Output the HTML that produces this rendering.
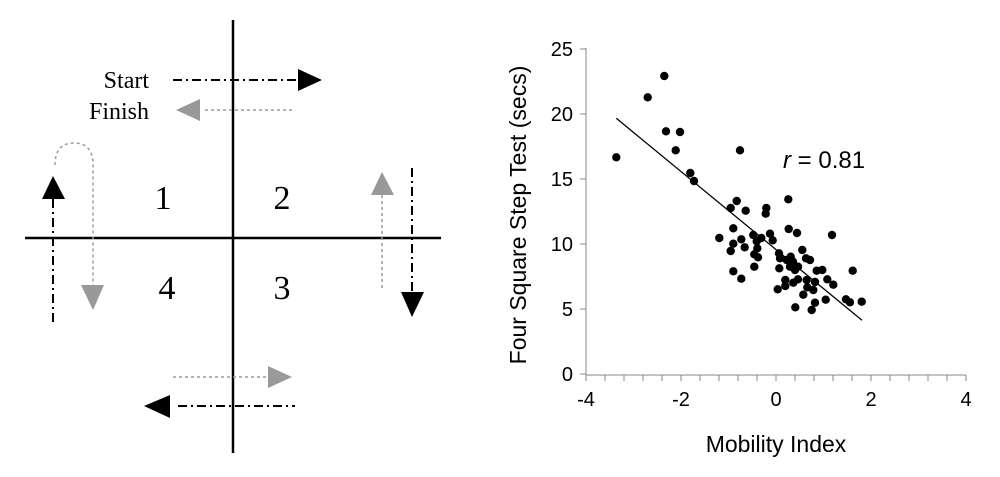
<!DOCTYPE html>
<html><head><meta charset="utf-8"><style>
html,body{margin:0;padding:0;background:#fff;}
</style></head><body>
<svg width="1000" height="472" viewBox="0 0 1000 472" xmlns="http://www.w3.org/2000/svg">
<g stroke="#000" stroke-width="2.5">
<line x1="233" y1="20" x2="233" y2="453"/>
<line x1="25" y1="238" x2="441" y2="238"/>
</g>
<g font-family="Liberation Serif, serif" fill="#000">
<text x="149" y="88" font-size="24" text-anchor="end">Start</text>
<text x="149" y="119" font-size="24" text-anchor="end">Finish</text>
<text x="163" y="209" font-size="34" text-anchor="middle">1</text>
<text x="282" y="209" font-size="34" text-anchor="middle">2</text>
<text x="167" y="299" font-size="34" text-anchor="middle">4</text>
<text x="282" y="299" font-size="34" text-anchor="middle">3</text>
</g>
<g stroke="#000" stroke-width="2" stroke-dasharray="9,4,2,4" fill="none">
<line x1="173" y1="80" x2="298" y2="80"/>
<line x1="53" y1="322" x2="53" y2="198"/>
<line x1="412" y1="168" x2="412" y2="293"/>
<line x1="178" y1="406" x2="295" y2="406"/>
</g>
<g stroke="#999" stroke-width="1.5" stroke-dasharray="3,3" fill="none">
<line x1="205" y1="110" x2="293" y2="110"/>
<path d="M55,165 Q55,143 74,143 Q93,143 93,165 L93,285"/>
<line x1="382" y1="288" x2="382" y2="195"/>
<line x1="173" y1="377" x2="268" y2="377"/>
</g>
<g fill="#000">
<polygon points="298,69 322,80 298,91"/>
<polygon points="42,199 53,176 65,199"/>
<polygon points="401,292 412,317 424,292"/>
<polygon points="170,395 144,406 170,418"/>
</g>
<g fill="#999">
<polygon points="200,99 176,110 200,121"/>
<polygon points="81,285 93,310 104,285"/>
<polygon points="371,195 382,172 394,195"/>
<polygon points="268,366 292,377 268,388"/>
</g>
<g stroke="#888" stroke-width="1">
<line x1="586" y1="48" x2="586" y2="375"/>
<line x1="586" y1="375" x2="966" y2="375"/>
<line x1="580" y1="49" x2="586" y2="49"/>
<line x1="580" y1="114" x2="586" y2="114"/>
<line x1="580" y1="179" x2="586" y2="179"/>
<line x1="580" y1="244" x2="586" y2="244"/>
<line x1="580" y1="309" x2="586" y2="309"/>
<line x1="580" y1="374" x2="586" y2="374"/>
<path d="M586,375v6M605,375v6M624,375v6M643,375v6M662,375v6M681,375v6M700,375v6M719,375v6M738,375v6M757,375v6M776,375v6M795,375v6M814,375v6M833,375v6M852,375v6M871,375v6M890,375v6M909,375v6M928,375v6M947,375v6M966,375v6"/>
</g>
<g font-family="Liberation Sans, sans-serif" font-size="20" fill="#000">
<text x="573" y="56" text-anchor="end">25</text>
<text x="573" y="121" text-anchor="end">20</text>
<text x="573" y="186" text-anchor="end">15</text>
<text x="573" y="251" text-anchor="end">10</text>
<text x="573" y="316" text-anchor="end">5</text>
<text x="573" y="381" text-anchor="end">0</text>
<text x="586" y="406" text-anchor="middle">-4</text>
<text x="681" y="406" text-anchor="middle">-2</text>
<text x="776" y="406" text-anchor="middle">0</text>
<text x="871" y="406" text-anchor="middle">2</text>
<text x="966" y="406" text-anchor="middle">4</text>
<text x="776" y="452" font-size="23" text-anchor="middle">Mobility Index</text>
<text transform="translate(526,215) rotate(-90)" font-size="23" text-anchor="middle">Four Square Step Test (secs)</text>
<text x="783" y="168" font-size="24"><tspan font-style="italic">r</tspan> = 0.81</text>
</g>
<line x1="616.3" y1="118.3" x2="862" y2="320.3" stroke="#000" stroke-width="1.3"/>
<g fill="#000">
<circle cx="616.3" cy="157.3" r="4.2"/><circle cx="647.7" cy="97.3" r="4.2"/><circle cx="664.3" cy="76" r="4.2"/><circle cx="666" cy="131.3" r="4.2"/><circle cx="680" cy="132" r="4.2"/><circle cx="675.7" cy="150.3" r="4.2"/><circle cx="690.3" cy="173" r="4.2"/><circle cx="694" cy="181" r="4.2"/><circle cx="740" cy="150.3" r="4.2"/><circle cx="730.7" cy="208" r="4.2"/><circle cx="736.7" cy="201" r="4.2"/><circle cx="745.7" cy="210.7" r="4.2"/><circle cx="765.7" cy="213.7" r="4.2"/><circle cx="766.3" cy="208" r="4.2"/><circle cx="788.3" cy="199.3" r="4.2"/><circle cx="733.3" cy="228.3" r="4.2"/><circle cx="719.3" cy="238" r="4.2"/><circle cx="733.3" cy="243.7" r="4.2"/><circle cx="730.7" cy="251" r="4.2"/><circle cx="741.3" cy="239.3" r="4.2"/><circle cx="744.7" cy="247.3" r="4.2"/><circle cx="753.3" cy="235" r="4.2"/><circle cx="761.3" cy="238" r="4.2"/><circle cx="756.7" cy="241.3" r="4.2"/><circle cx="757.3" cy="248.3" r="4.2"/><circle cx="754.3" cy="254.3" r="4.2"/><circle cx="758" cy="257.3" r="4.2"/><circle cx="770" cy="233.7" r="4.2"/><circle cx="772.7" cy="240.3" r="4.2"/><circle cx="788.7" cy="229" r="4.2"/><circle cx="797" cy="233" r="4.2"/><circle cx="832" cy="235" r="4.2"/><circle cx="779" cy="253.3" r="4.2"/><circle cx="780" cy="258.3" r="4.2"/><circle cx="790.7" cy="256.7" r="4.2"/><circle cx="793" cy="261.7" r="4.2"/><circle cx="802.3" cy="250" r="4.2"/><circle cx="806" cy="258.3" r="4.2"/><circle cx="810" cy="260" r="4.2"/><circle cx="790" cy="266.7" r="4.2"/><circle cx="795" cy="270" r="4.2"/><circle cx="798" cy="266.7" r="4.2"/><circle cx="779.3" cy="268.3" r="4.2"/><circle cx="754.3" cy="266.7" r="4.2"/><circle cx="733.3" cy="271.3" r="4.2"/><circle cx="741.3" cy="278.7" r="4.2"/><circle cx="777.7" cy="289.3" r="4.2"/><circle cx="785.3" cy="280" r="4.2"/><circle cx="785.3" cy="286" r="4.2"/><circle cx="793.3" cy="282.7" r="4.2"/><circle cx="798" cy="279.3" r="4.2"/><circle cx="806.7" cy="280" r="4.2"/><circle cx="815" cy="282" r="4.2"/><circle cx="807.3" cy="287.3" r="4.2"/><circle cx="813.3" cy="290" r="4.2"/><circle cx="803.3" cy="294.7" r="4.2"/><circle cx="816.7" cy="270.7" r="4.2"/><circle cx="822.3" cy="270" r="4.2"/><circle cx="827.3" cy="279.3" r="4.2"/><circle cx="833.3" cy="284.7" r="4.2"/><circle cx="852.7" cy="270.7" r="4.2"/><circle cx="846" cy="299.3" r="4.2"/><circle cx="850" cy="302.3" r="4.2"/><circle cx="861.7" cy="301.7" r="4.2"/><circle cx="825.7" cy="299.7" r="4.2"/><circle cx="815" cy="302.7" r="4.2"/><circle cx="811.7" cy="310" r="4.2"/><circle cx="795.3" cy="307.3" r="4.2"/><circle cx="791.7" cy="262.7" r="4.2"/><circle cx="786.7" cy="260" r="4.2"/>
</g>
</svg>
</body></html>
